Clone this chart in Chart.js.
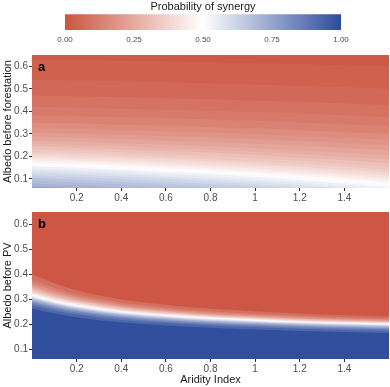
<!DOCTYPE html>
<html>
<head>
<meta charset="utf-8">
<script src="https://cdn.jsdelivr.net/npm/chart.js@4.4.1/dist/chart.umd.min.js"></script>
<style>
  html, body { margin: 0; padding: 0; background: #fff; }
  #wrap { position: relative; width: 390px; height: 387px; }
  canvas { position: absolute; left: 0; }
</style>
</head>
<body>
<div id="wrap">
  <canvas id="legend" width="390" height="48" style="top:0"></canvas>
  <canvas id="panelA" width="390" height="156" style="top:48px"></canvas>
  <canvas id="panelB" width="390" height="183" style="top:204px"></canvas>
</div>
<script>
// aridity index columns where the contours were read
const aridity = [0, 0.1, 0.2, 0.4, 0.6, 0.8, 1.0, 1.2, 1.4, 1.6];

// panel a: albedo at which probability of synergy reaches each level
const forestLevels = [0.025, 0.05, 0.075, 0.10, 0.125, 0.15, 0.175, 0.20, 0.225, 0.25,
                      0.275, 0.30, 0.325, 0.35, 0.375, 0.40, 0.425, 0.45, 0.475, 0.50,
                      0.525, 0.55, 0.575, 0.60, 0.625, 0.65, 0.675, 0.70, 0.725];
const forestContours = [
  [0.630, 0.629, 0.628, 0.625, 0.622, 0.618, 0.614, 0.610, 0.605, 0.600],
  [0.540, 0.538, 0.537, 0.533, 0.529, 0.524, 0.519, 0.513, 0.507, 0.500],
  [0.470, 0.468, 0.467, 0.463, 0.458, 0.454, 0.448, 0.442, 0.435, 0.428],
  [0.420, 0.418, 0.416, 0.412, 0.407, 0.402, 0.397, 0.390, 0.383, 0.375],
  [0.382, 0.380, 0.378, 0.374, 0.369, 0.364, 0.358, 0.351, 0.343, 0.335],
  [0.350, 0.348, 0.346, 0.341, 0.336, 0.330, 0.324, 0.316, 0.308, 0.300],
  [0.326, 0.324, 0.322, 0.317, 0.311, 0.306, 0.299, 0.291, 0.283, 0.274],
  [0.305, 0.303, 0.301, 0.296, 0.290, 0.284, 0.276, 0.268, 0.259, 0.250],
  [0.287, 0.285, 0.282, 0.277, 0.270, 0.264, 0.256, 0.247, 0.237, 0.227],
  [0.270, 0.267, 0.265, 0.259, 0.252, 0.245, 0.236, 0.226, 0.216, 0.205],
  [0.257, 0.254, 0.251, 0.245, 0.237, 0.230, 0.221, 0.210, 0.199, 0.187],
  [0.245, 0.242, 0.239, 0.232, 0.224, 0.216, 0.206, 0.195, 0.183, 0.170],
  [0.232, 0.229, 0.226, 0.219, 0.210, 0.202, 0.192, 0.180, 0.168, 0.155],
  [0.220, 0.217, 0.214, 0.206, 0.198, 0.189, 0.178, 0.166, 0.154, 0.140],
  [0.210, 0.207, 0.203, 0.196, 0.187, 0.178, 0.167, 0.154, 0.141, 0.127],
  [0.200, 0.197, 0.193, 0.186, 0.176, 0.167, 0.156, 0.143, 0.129, 0.115],
  [0.191, 0.188, 0.184, 0.176, 0.167, 0.157, 0.146, 0.133, 0.119, 0.104],
  [0.183, 0.179, 0.176, 0.168, 0.158, 0.148, 0.137, 0.123, 0.109, 0.094],
  [0.174, 0.170, 0.167, 0.159, 0.149, 0.139, 0.128, 0.114, 0.100, 0.085],
  [0.165, 0.162, 0.158, 0.150, 0.140, 0.130, 0.118, 0.105, 0.090, 0.075],
  [0.157, 0.153, 0.150, 0.141, 0.131, 0.121, 0.109, 0.095, 0.080, 0.064],
  [0.148, 0.144, 0.140, 0.132, 0.121, 0.111, 0.098, 0.084, 0.068, 0.052],
  [0.138, 0.134, 0.130, 0.122, 0.111, 0.100, 0.088, 0.073, 0.057, 0.041],
  [0.128, 0.124, 0.120, 0.111, 0.101, 0.090, 0.077, 0.062, 0.047, 0.030],
  [0.117, 0.113, 0.109, 0.100, 0.089, 0.078, 0.066, 0.051, 0.035, 0.018],
  [0.105, 0.101, 0.097, 0.088, 0.077, 0.066, 0.053, 0.038, 0.022, 0.005],
  [0.093, 0.089, 0.085, 0.075, 0.064, 0.053, 0.039, 0.024, 0.008, -0.010],
  [0.080, 0.076, 0.072, 0.062, 0.051, 0.039, 0.025, 0.010, -0.007, -0.025],
  [0.067, 0.063, 0.058, 0.049, 0.037, 0.025, 0.011, -0.005, -0.023, -0.041]
];
const forestTop = 0.015;    // probability above the first contour
const forestBottom = 0.76;  // probability below the last contour

// panel b
const pvLevels = [0.05, 0.10, 0.15, 0.20, 0.25, 0.30, 0.35, 0.40, 0.45, 0.50,
                  0.55, 0.60, 0.65, 0.70, 0.75, 0.80, 0.85, 0.90, 0.95];
const pvContours = [
  [0.400, 0.364, 0.336, 0.299, 0.278, 0.262, 0.252, 0.243, 0.236, 0.231],
  [0.378, 0.346, 0.320, 0.287, 0.267, 0.252, 0.242, 0.234, 0.228, 0.223],
  [0.365, 0.335, 0.311, 0.279, 0.260, 0.247, 0.237, 0.229, 0.223, 0.219],
  [0.355, 0.326, 0.304, 0.273, 0.255, 0.242, 0.233, 0.225, 0.219, 0.215],
  [0.347, 0.319, 0.298, 0.269, 0.251, 0.238, 0.229, 0.222, 0.216, 0.212],
  [0.340, 0.313, 0.293, 0.265, 0.248, 0.235, 0.227, 0.219, 0.214, 0.209],
  [0.333, 0.307, 0.288, 0.260, 0.244, 0.232, 0.224, 0.216, 0.211, 0.207],
  [0.327, 0.302, 0.284, 0.257, 0.241, 0.229, 0.221, 0.214, 0.209, 0.204],
  [0.321, 0.297, 0.279, 0.253, 0.238, 0.227, 0.219, 0.211, 0.206, 0.202],
  [0.315, 0.292, 0.275, 0.250, 0.235, 0.224, 0.216, 0.209, 0.204, 0.200],
  [0.311, 0.288, 0.271, 0.247, 0.232, 0.221, 0.213, 0.206, 0.201, 0.197],
  [0.307, 0.284, 0.268, 0.243, 0.229, 0.218, 0.210, 0.203, 0.198, 0.194],
  [0.303, 0.281, 0.264, 0.240, 0.226, 0.215, 0.207, 0.200, 0.196, 0.192],
  [0.299, 0.277, 0.261, 0.237, 0.223, 0.212, 0.204, 0.198, 0.193, 0.189],
  [0.294, 0.272, 0.256, 0.233, 0.219, 0.208, 0.201, 0.194, 0.189, 0.185],
  [0.289, 0.267, 0.252, 0.229, 0.215, 0.204, 0.197, 0.191, 0.186, 0.182],
  [0.283, 0.262, 0.246, 0.224, 0.210, 0.200, 0.193, 0.186, 0.182, 0.178],
  [0.275, 0.254, 0.239, 0.217, 0.204, 0.194, 0.187, 0.181, 0.176, 0.172],
  [0.263, 0.243, 0.228, 0.207, 0.194, 0.185, 0.178, 0.172, 0.168, 0.164]
];
const pvTop = 0.01;
const pvBottom = 0.99;

const xTickValues = [0.2, 0.4, 0.6, 0.8, 1, 1.2, 1.4];
const yTickValues = [0.1, 0.2, 0.3, 0.4, 0.5, 0.6];
const legendTicks = [0, 0.25, 0.5, 0.75, 1];

const FONT = '"Liberation Sans", Arial, Helvetica, sans-serif';
Chart.defaults.font.family = FONT;

const RED = [204, 84, 64], MID = [255, 255, 255], BLUE = [45, 75, 155];
function probColor(p) {
  const a = p < 0.5 ? RED : MID;
  const b = p < 0.5 ? MID : BLUE;
  const t = p < 0.5 ? p / 0.5 : (p - 0.5) / 0.5;
  const c = a.map((v, i) => Math.round(v + (b[i] - v) * t));
  return 'rgb(' + c.join(',') + ')';
}

// contour lines filled down to the axis start, highest probability drawn last
function contourSets(levels, contours, bottomP) {
  const sets = [];
  for (let i = levels.length - 1; i >= 0; i--) {
    const below = i === levels.length - 1 ? bottomP : (levels[i] + levels[i + 1]) / 2;
    sets.push({
      data: contours[i].map((y, j) => ({ x: aridity[j], y: y })),
      fill: 'start',
      backgroundColor: probColor(below),
      borderColor: 'rgba(0,0,0,0)',
      borderWidth: 0,
      pointRadius: 0,
      pointHoverRadius: 0,
      cubicInterpolationMode: 'monotone'
    });
  }
  return sets;
}

const areaBackground = {
  id: 'areaBackground',
  beforeDatasetsDraw(chart, args, opts) {
    const { ctx, chartArea } = chart;
    ctx.save();
    ctx.fillStyle = opts.color;
    ctx.fillRect(chartArea.left, chartArea.top, chartArea.width, chartArea.height);
    ctx.restore();
  }
};

const panelTag = {
  id: 'panelTag',
  afterDraw(chart, args, opts) {
    const { ctx, chartArea } = chart;
    ctx.save();
    ctx.font = 'bold 13px ' + FONT;
    ctx.fillStyle = '#000';
    ctx.textBaseline = 'alphabetic';
    ctx.fillText(opts.text, chartArea.left + 6, chartArea.top + 16);
    ctx.restore();
  }
};

function panelOptions(tag, topColor, yTitle, xTitle, xHeight, padTop) {
  return {
    animation: false,
    responsive: false,
    events: [],
    layout: { padding: { top: padTop, right: 1, left: 0, bottom: 0 }, autoPadding: false },
    plugins: {
      legend: { display: false },
      tooltip: { enabled: false },
      areaBackground: { color: topColor },
      panelTag: { text: tag }
    },
    scales: {
      x: {
        type: 'linear', min: 0, max: 1.6,
        afterBuildTicks: s => { s.ticks = xTickValues.map(v => ({ value: v })); },
        afterFit: s => { s.height = xHeight; },
        grid: { drawOnChartArea: false, tickLength: 3, color: '#333' },
        border: { display: false },
        ticks: { font: { size: 10 }, color: '#4d4d4d', padding: 1.5, autoSkip: false, maxRotation: 0,
                 callback: v => String(v) },
        title: { display: !!xTitle, text: xTitle, font: { size: 11 }, color: '#1a1a1a', padding: { top: 0, bottom: 0 } }
      },
      y: {
        type: 'linear', min: 0.06, max: 0.65,
        afterBuildTicks: s => { s.ticks = yTickValues.map(v => ({ value: v })); },
        afterFit: s => { s.width = 32; },
        grid: { drawOnChartArea: false, tickLength: 3, color: '#333' },
        border: { display: false },
        ticks: { font: { size: 10 }, color: '#4d4d4d', padding: 1, autoSkip: false,
                 callback: v => String(v) },
        title: { display: true, text: yTitle, font: { size: 11 }, color: '#1a1a1a', padding: { top: 1, bottom: 0 } }
      }
    }
  };
}

new Chart(document.getElementById('panelA'), {
  type: 'line',
  data: { datasets: contourSets(forestLevels, forestContours, forestBottom) },
  options: panelOptions('a', probColor(forestTop), 'Albedo before forestation', '', 16, 3),
  plugins: [areaBackground, panelTag]
});

new Chart(document.getElementById('panelB'), {
  type: 'line',
  data: { datasets: contourSets(pvLevels, pvContours, pvBottom) },
  options: panelOptions('b', probColor(pvTop), 'Albedo before PV', 'Aridity Index', 28, 8),
  plugins: [areaBackground, panelTag]
});

// colour bar legend
new Chart(document.getElementById('legend'), {
  type: 'bar',
  data: {
    labels: [''],
    datasets: [{
      data: [[0, 1]],
      borderWidth: 0,
      barPercentage: 1,
      categoryPercentage: 1,
      backgroundColor: ctx => {
        const chart = ctx.chart;
        if (!chart.chartArea) return probColor(0.5);
        const x = chart.scales.x;
        const g = chart.ctx.createLinearGradient(x.getPixelForValue(0), 0, x.getPixelForValue(1), 0);
        for (let k = 0; k <= 20; k++) g.addColorStop(k / 20, probColor(k / 20));
        return g;
      }
    }]
  },
  options: {
    indexAxis: 'y',
    animation: false,
    responsive: false,
    events: [],
    layout: { padding: { left: 65, right: 49, top: 0, bottom: 0 }, autoPadding: false },
    plugins: {
      legend: { display: false },
      tooltip: { enabled: false },
      title: { display: true, fullSize: false, text: 'Probability of synergy',
               font: { size: 11, weight: 'normal' }, color: '#1a1a1a', padding: { top: 0, bottom: 1 } }
    },
    scales: {
      x: {
        type: 'linear', min: 0, max: 1,
        afterBuildTicks: s => { s.ticks = legendTicks.map(v => ({ value: v })); },
        afterFit: s => { s.height = 18; },
        grid: { display: false, drawTicks: false },
        border: { display: false },
        ticks: { font: { size: 8 }, color: '#4d4d4d', padding: 5, autoSkip: false, maxRotation: 0,
                 callback: v => v.toFixed(2) }
      },
      y: { display: false }
    }
  }
});
</script>
</body>
</html>
